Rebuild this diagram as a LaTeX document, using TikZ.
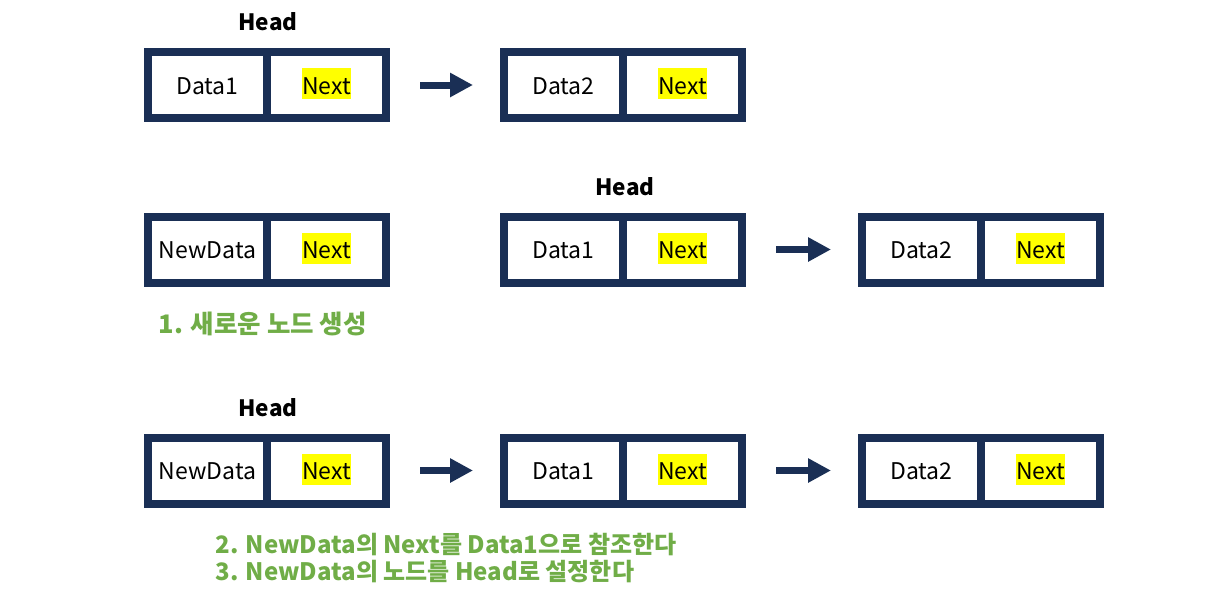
\documentclass[tikz,border=0pt]{standalone}
\usepackage{fontspec}
\setmainfont{Noto Sans CJK KR}
\usetikzlibrary{arrows.meta, positioning}

\definecolor{boxblue}{HTML}{1A2F55}
\definecolor{stepgreen}{HTML}{70AD47}
\definecolor{hilite}{HTML}{FFFF00}
\newcommand{\hlnext}[1]{{\setlength{\fboxsep}{0pt}\colorbox{hilite}{\rule[-5pt]{0pt}{31pt}#1}}}

\tikzset{
  cell/.style={draw=boxblue, line width=8pt, minimum width=119pt, minimum height=66pt,
    inner sep=0pt, outer sep=0pt, text height=24pt, text depth=6pt,
    font=\fontsize{23pt}{28pt}\selectfont},
  headlbl/.style={font=\fontsize{22.5pt}{26pt}\selectfont\bfseries},
  steplbl/.style={font=\fontsize{24pt}{27pt}\selectfont\bfseries, text=stepgreen, align=left, anchor=west},
  arr/.style={draw=boxblue, line width=7pt, -{Triangle[length=23pt, width=23pt]}}
}

\begin{document}
\begin{tikzpicture}[x=1pt, y=-1pt]
\useasboundingbox (0,0) rectangle (1220,597);
% linked list nodes: name/left x/centre y/data
\foreach \nm/\x/\y/\dat in {a/144/85/Data1, b/500/85/Data2,
    c/144/249.5/NewData, d/500/249.5/Data1, e/858/249.5/Data2,
    f/144/470.5/NewData, g/500/470.5/Data1, h/858/470.5/Data2} {
    \node[cell] (\nm-d) at (\x+63.5, \y) {\dat};
    \node[cell, right=0pt of \nm-d] (\nm-n) {\hlnext{Next}};
}
\foreach \a/\b in {a/b, d/e, f/g, g/h} {
    \draw[arr, shorten <=34pt, shorten >=31pt] (\a-n.east) -- (\b-d.west);
}
% head labels
\node[headlbl] (head1) at (268, 22) {Head};
\node[headlbl] (head2) at (625, 187) {Head};
\node[headlbl] (head3) at (268, 408) {Head};
% steps
\node[steplbl, font=\fontsize{25.5pt}{27pt}\selectfont\bfseries] (step1) at (155, 324) {1. 새로운 노드 생성};
\node[steplbl] (step2) at (212, 558.5) {2. NewData의 Next를 Data1으로 참조한다\\3. NewData의 노드를 Head로 설정한다};
\end{tikzpicture}
\end{document}
